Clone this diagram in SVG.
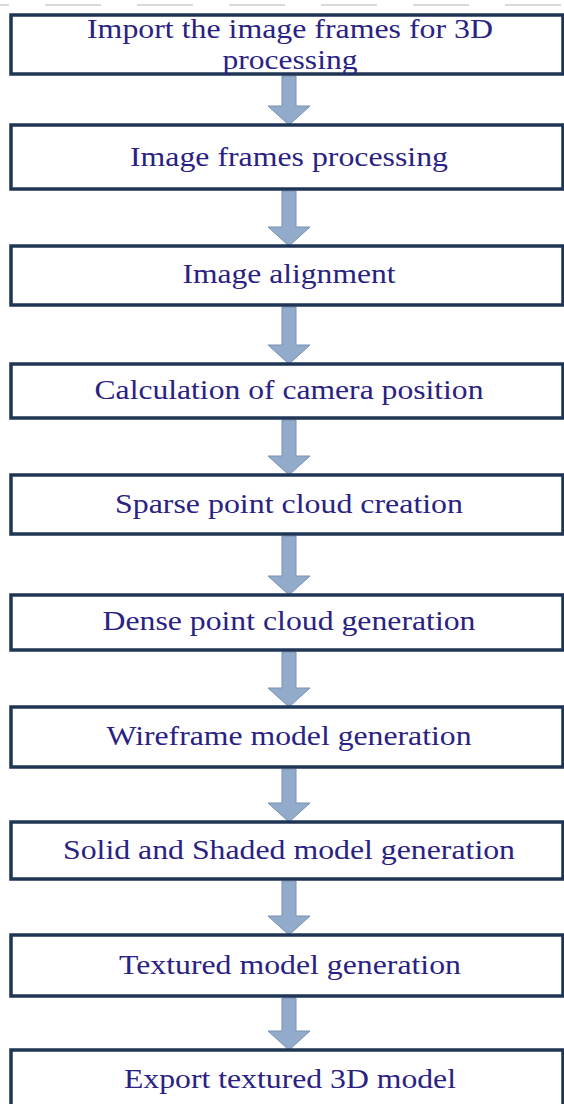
<svg xmlns="http://www.w3.org/2000/svg" width="564" height="1104" viewBox="0 0 564 1104">
<style>
.box{fill:#ffffff;stroke:#1f3556;stroke-width:3.5}
.lbl{font-family:"Liberation Serif","Times New Roman",serif;font-size:27px;fill:#2a2283;text-anchor:middle}
.arr{fill:#93abcb;stroke:#7890b3;stroke-width:1}
.dash{stroke:#d9d9d9;stroke-width:2;stroke-dasharray:56 36;fill:none}
</style>
<rect width="564" height="1104" fill="#ffffff"/>
<line class="dash" x1="-47" y1="5" x2="564" y2="5"/>
<g id="connectors">
<path class="arr" d="M282,76 H296 V106 H310 L289,125 L268,106 H282 Z"/>
<path class="arr" d="M282,191 H296 V227 H310 L289,246 L268,227 H282 Z"/>
<path class="arr" d="M282,307 H296 V345 H310 L289,364 L268,345 H282 Z"/>
<path class="arr" d="M282,420 H296 V456 H310 L289,475 L268,456 H282 Z"/>
<path class="arr" d="M282,536 H296 V576 H310 L289,595 L268,576 H282 Z"/>
<path class="arr" d="M282,652 H296 V688 H310 L289,707 L268,688 H282 Z"/>
<path class="arr" d="M282,769 H296 V803 H310 L289,822 L268,803 H282 Z"/>
<path class="arr" d="M282,881 H296 V916 H310 L289,935 L268,916 H282 Z"/>
<path class="arr" d="M282,998 H296 V1031 H310 L289,1050 L268,1031 H282 Z"/>
</g>
<g id="n1"><rect class="box" x="11" y="15" width="552" height="59"/>
<text class="lbl" x="290" y="38" textLength="406" lengthAdjust="spacingAndGlyphs">Import the image frames for 3D</text>
<text class="lbl" x="290" y="69" textLength="135" lengthAdjust="spacingAndGlyphs">processing</text></g>
<g id="n2"><rect class="box" x="11" y="125" width="552" height="64"/>
<text class="lbl" x="289" y="166" textLength="318" lengthAdjust="spacingAndGlyphs">Image frames processing</text></g>
<g id="n3"><rect class="box" x="11" y="246" width="552" height="59"/>
<text class="lbl" x="289" y="283" textLength="213" lengthAdjust="spacingAndGlyphs">Image alignment</text></g>
<g id="n4"><rect class="box" x="11" y="364" width="552" height="54"/>
<text class="lbl" x="289" y="399" textLength="389" lengthAdjust="spacingAndGlyphs">Calculation of camera position</text></g>
<g id="n5"><rect class="box" x="11" y="475" width="552" height="59"/>
<text class="lbl" x="289" y="513" textLength="348" lengthAdjust="spacingAndGlyphs">Sparse point cloud creation</text></g>
<g id="n6"><rect class="box" x="11" y="595" width="552" height="55"/>
<text class="lbl" x="289" y="630" textLength="373" lengthAdjust="spacingAndGlyphs">Dense point cloud generation</text></g>
<g id="n7"><rect class="box" x="11" y="707" width="552" height="60"/>
<text class="lbl" x="289" y="745" textLength="365" lengthAdjust="spacingAndGlyphs">Wireframe model generation</text></g>
<g id="n8"><rect class="box" x="11" y="822" width="552" height="57"/>
<text class="lbl" x="289" y="859" textLength="452" lengthAdjust="spacingAndGlyphs">Solid and Shaded model generation</text></g>
<g id="n9"><rect class="box" x="11" y="935" width="552" height="61"/>
<text class="lbl" x="290" y="974" textLength="342" lengthAdjust="spacingAndGlyphs">Textured model generation</text></g>
<g id="n10"><rect class="box" x="11" y="1050" width="552" height="70"/>
<text class="lbl" x="290" y="1088" textLength="332" lengthAdjust="spacingAndGlyphs">Export textured 3D model</text></g>
</svg>
